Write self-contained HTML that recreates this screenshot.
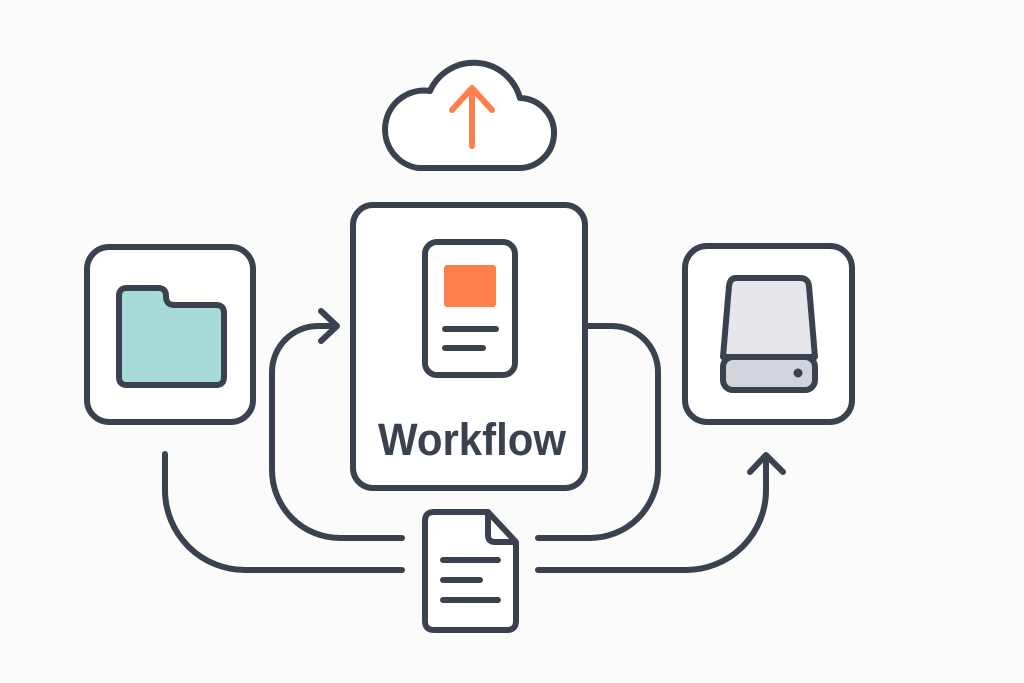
<!DOCTYPE html>
<html><head><style>html,body{margin:0;padding:0;background:#fbfbfb}svg{display:block}</style></head>
<body>
<svg width="1024" height="683" viewBox="0 0 1024 683" xmlns="http://www.w3.org/2000/svg">
<rect width="1024" height="683" fill="#fbfbfb"/>
<g fill="none" stroke="#3a4250" stroke-width="6" stroke-linecap="round" stroke-linejoin="round">
  <path d="M402,538 H340 A68,68 0 0 1 272,470 V372 A46,46 0 0 1 318,326 H336"/>
  <path d="M321,311 L337,326 L321,341"/>
  <path d="M585,326 H612 A46,46 0 0 1 658,372 V470 A68,68 0 0 1 590,538 H538"/>
  <path d="M165,454 V490 A80,80 0 0 0 245,570 H402"/>
  <path d="M538,570 H686 A80,80 0 0 0 766,490 V456"/>
  <path d="M750,472 L766,455 L783,472"/>
  <rect x="87" y="247" width="166" height="175" rx="22" fill="#fff"/>
  <path d="M119,296 Q119,288 127,288 H158 Q166,288 166,296 Q166,305 174,305 H216 Q224,305 224,313 V377 Q224,385 216,385 H127 Q119,385 119,377 Z" fill="#a6dbd8"/>
  <path d="M418,168 H518 A35,35 0 0 0 520,98 A48,48 0 0 0 430,91 A38,38 0 0 0 418,168 Z" fill="#fff"/>
  <rect x="353" y="205" width="232" height="283" rx="20" fill="#fff"/>
  <rect x="425" y="242" width="90" height="133" rx="12" fill="#fff"/>
  <path d="M445,329 H496 M445,348 H483"/>
  <rect x="685" y="246" width="167" height="176" rx="22" fill="#fff"/>
  <path d="M736,278 H800 Q808,278 809,286 L815,357 H723 L729,286 Q730,278 736,278 Z" fill="#e5e7eb"/>
  <rect x="723" y="357" width="92" height="33" rx="10" fill="#d1d5db"/>
  <path d="M434,512 H488 L516,542 V621 Q516,630 507,630 H434 Q425,630 425,621 V521 Q425,512 434,512 Z" fill="#fff"/>
  <path d="M488,514 V535 Q488,542 495,542 H514"/>
  <path d="M443,560 H498 M443,580 H480 M443,600 H498"/>
</g>
<rect x="444" y="265" width="52" height="42" rx="3" fill="#fe7f4b"/>
<circle cx="798" cy="373" r="4.5" fill="#3a4250"/>
<g fill="none" stroke="#fe7f4b" stroke-width="6" stroke-linecap="round" stroke-linejoin="round">
  <path d="M472,146 V88 M452,110 L472,88 L492,110"/>
</g>
<text x="378" y="455" font-family="Liberation Sans, sans-serif" font-weight="bold" font-size="45" fill="#3a4250" textLength="188" lengthAdjust="spacingAndGlyphs">Workflow</text>
</svg>
</body></html>
